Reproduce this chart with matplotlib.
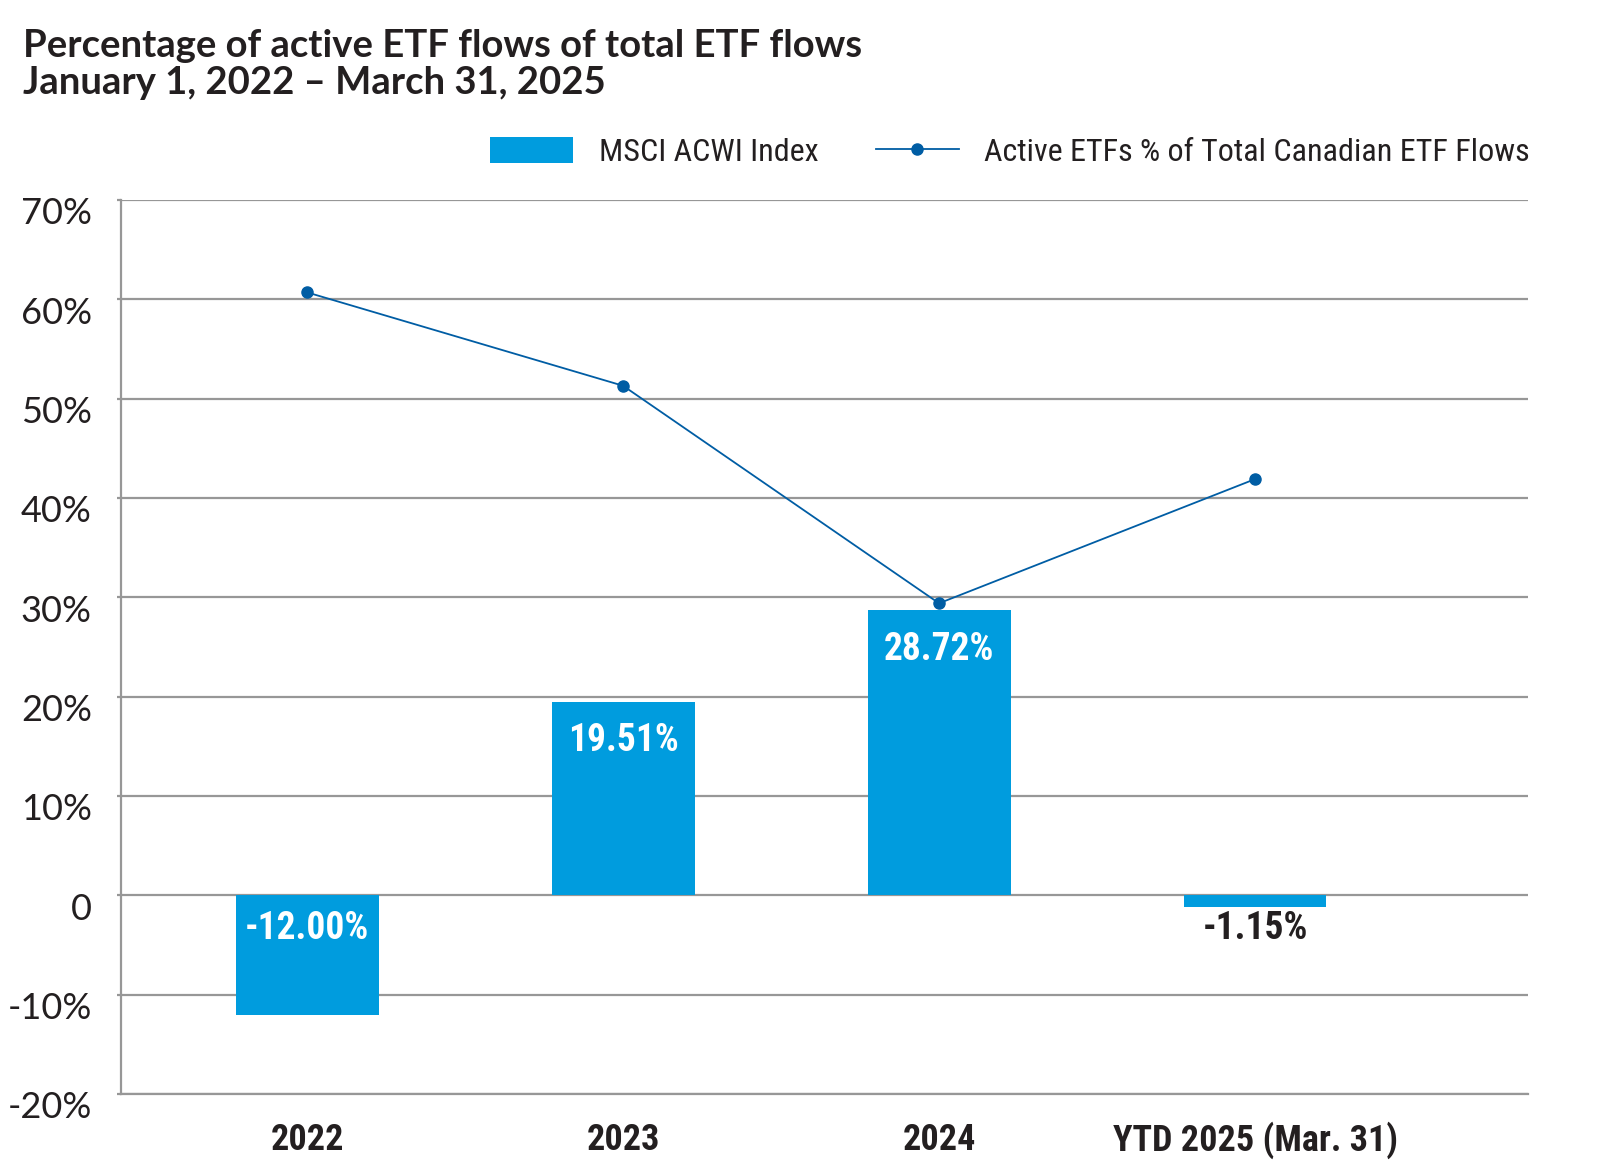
import matplotlib
matplotlib.use("Agg")
import matplotlib.pyplot as plt
from matplotlib import font_manager as fm
from matplotlib.transforms import ScaledTranslation
from matplotlib.patches import Patch
from matplotlib.lines import Line2D
import numpy as np

# ---------------- data ----------------
categories = ["2022", "2023", "2024", "YTD 2025 (Mar. 31)"]
msci_acwi = [-12.00, 19.51, 28.72, -1.15]
active_share = [60.7, 51.3, 29.4, 41.9]
bar_labels = ["-12.00%", "19.51%", "28.72%", "-1.15%"]
y_ticks = [-20, -10, 0, 10, 20, 30, 40, 50, 60, 70]
y_tick_labels = ["-20%", "-10%", "0", "10%", "20%", "30%", "40%", "50%", "60%", "70%"]
title_lines = ["Percentage of active ETF flows of total ETF flows",
               "January 1, 2022 \u2013 March 31, 2025"]
legend_labels = ["MSCI ACWI Index", "Active ETFs % of Total Canadian ETF Flows"]

# ---------------- style ----------------
BAR = "#009CDE"
LINE = "#005DA4"
GRID = "#979797"
TXT = "#231F20"

names = {f.name for f in fm.fontManager.ttflist}
def pick(cands):
    for c in cands:
        if c in names:
            return c
    return "DejaVu Sans"
COND = pick(["Roboto Condensed", "Liberation Sans Narrow", "Open Sans Condensed", "Liberation Sans", "DejaVu Sans"])
SANS = pick(["Lato", "Open Sans", "Noto Sans", "DejaVu Sans"])

DPI = 100
fig = plt.figure(figsize=(15.98, 11.65), dpi=DPI)
W, H = 1598, 1165
ax = fig.add_axes([121 / W, 1 - 1094 / H, (1528 - 121) / W, (1094 - 200) / H])

x = np.arange(len(categories))
ax.bar(x, msci_acwi, width=0.4525, color=BAR, zorder=3)
ax.plot(x, active_share, color=LINE, lw=1.3, marker="o", ms=8, zorder=4)

ax.set_xlim(-0.589, 3.864)
ax.set_ylim(-20, 70)

# grid
ax.set_yticks(y_ticks)
ax.yaxis.grid(True, color=GRID, lw=1.6, zorder=1)
ax.set_axisbelow(True)
for s in ["top", "right"]:
    ax.spines[s].set_visible(False)
ax.spines["left"].set_color(GRID)
ax.spines["left"].set_linewidth(1.6)
ax.spines["bottom"].set_color(GRID)
ax.spines["bottom"].set_linewidth(1.6)

ax.set_yticklabels(y_tick_labels, fontsize=26, color=TXT, family=SANS, fontweight="normal")
ax.tick_params(axis="y", length=3, width=1.6, color=GRID, pad=18)
off = ScaledTranslation(0, -11 / DPI, fig.dpi_scale_trans)
for lab in ax.get_yticklabels():
    lab.set_transform(lab.get_transform() + off)

ax.set_xticks(x)
ax.set_xticklabels(categories, fontsize=26, fontweight="bold", color=TXT, family=COND)
ax.tick_params(axis="x", length=0, pad=20)

# bar value labels
for xi, v, lab in zip(x, msci_acwi, bar_labels):
    if v >= 0:
        ax.annotate(lab, xy=(xi, v), xytext=(0, -39 * 72 / DPI), textcoords="offset points",
                    ha="center", va="center", fontsize=27, fontweight="bold",
                    color="white", family=COND, zorder=5)
    else:
        col = "white" if v < -5 else TXT
        ax.annotate(lab, xy=(xi, 0), xytext=(0, -33 * 72 / DPI), textcoords="offset points",
                    ha="center", va="center", fontsize=27, fontweight="bold",
                    color=col, family=COND, zorder=5)

# title
fig.text(23 / W, 1 - 56.7 / H, title_lines[0], fontsize=27.5, fontweight="bold",
         color=TXT, family=SANS, va="baseline", ha="left")
fig.text(23 / W, 1 - 94 / H, title_lines[1], fontsize=27.5, fontweight="bold",
         color=TXT, family=SANS, va="baseline", ha="left")

# legend
handles = [Patch(facecolor=BAR, edgecolor="none"),
           Line2D([0], [0], color=LINE, lw=1.3, marker="o", ms=8)]
leg = fig.legend(handles, legend_labels, loc="center right",
                 bbox_to_anchor=(1530 / W, 1 - 152 / H), ncol=2, frameon=False,
                 prop={"family": COND, "size": 23, "weight": "normal"}, labelcolor=TXT,
                 handlelength=2.6, handleheight=0.9, handletextpad=0.8,
                 columnspacing=1.8, borderpad=0, borderaxespad=0)

fig.savefig("out.png", dpi=DPI)
